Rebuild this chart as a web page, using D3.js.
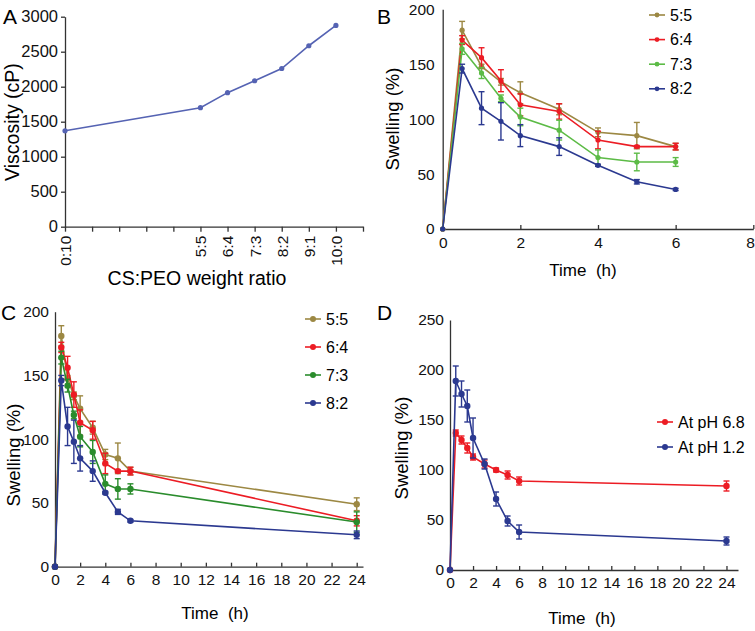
<!DOCTYPE html>
<html>
<head>
<meta charset="utf-8">
<script src="https://cdn.jsdelivr.net/npm/d3@7"></script>
<style>
  body { margin: 0; background: #fff; }
  svg { font-family: "Liberation Sans", Arial, sans-serif; }
  .axis path, .axis line { stroke: #333; stroke-width: 1.3; }
  .axis text { fill: #111; }
</style>
</head>
<body>
<svg id="chart" width="755" height="631"></svg>
<script>
// ---- panel A: viscosity vs CS:PEO ratio
const ratioPos = [0, 5, 6, 7, 8, 9, 10];
const ratioLabels = ["0:10", "5:5", "6:4", "7:3", "8:2", "9:1", "10:0"];
const viscosity = [1370, 1700, 1915, 2085, 2260, 2585, 2875];

// ---- swelling, 0-6 h (B) and 0-24 h (C)
const timesShort = [0, 0.5, 1, 1.5, 2, 3, 4, 5, 6];
const timesLong = [0, 0.5, 1, 1.5, 2, 3, 4, 5, 6, 24];
const ratioSeries = ["5:5", "6:4", "7:3", "8:2"];
const sw55 = [0, 181, 148, 134, 124, 109, 88, 85, 75, 49];
const sw55err = [0, 8, 2, 3, 10, 5, 4, 12, 3, 5];
const sw64 = [0, 172, 156, 135, 113, 107, 81, 75, 75, 36];
const sw64err = [0, 4, 9, 10, 10, 7, 8, 1, 3, 4];
const sw73 = [0, 164, 142, 119, 102, 90, 65, 61, 61, 35];
const sw73err = [0, 5, 5, 3, 8, 9, 7, 8, 4, 8];
const sw82 = [0, 146, 110, 98, 85, 75, 58, 43, 36, 25];
const sw82err = [0, 4, 15, 17, 10, 8, 1, 2, 1, 3];

// ---- panel D: pH
const phSeries = ["At pH 6.8", "At pH 1.2"];
const ph68 = [0, 137, 130, 122, 113, 106, 100, 95, 89, 84];
const ph68err = [0, 3, 4, 5, 3, 4, 2, 4, 4, 5];
const ph12 = [0, 189, 176, 164, 132, 106, 71, 49, 38, 29];
const ph12err = [0, 15, 13, 16, 20, 5, 7, 5, 7, 4];

const svg = d3.select("#chart");

function drawAxes(g, x, y, opt) {
  let xa = d3.axisBottom(x).tickValues(opt.xTicks).tickSizeOuter(0)
    .tickSizeInner(opt.xTickIn).tickPadding(opt.xPad)
    .tickFormat(opt.xFormat || d3.format("d"));
  let gx = g.append("g").attr("class", "axis")
    .attr("transform", "translate(0," + y.range()[0] + ")")
    .call(xa);
  gx.selectAll("text").style("font-size", opt.tickFont + "px");

  let ya = d3.axisLeft(y).tickValues(opt.yTicks).tickSizeOuter(0)
    .tickSizeInner(opt.yTickIn).tickPadding(opt.yPad)
    .tickFormat(d3.format("d"));
  let gy = g.append("g").attr("class", "axis")
    .attr("transform", "translate(" + x.range()[0] + ",0)")
    .call(ya);
  gy.selectAll("text").style("font-size", (opt.yFont || opt.tickFont) + "px");
  return gx;
}

function drawSeries(g, x, y, xs, ys, errs, color, r) {
  let pts = xs.map((t, i) => ({ t: t, v: ys[i], e: errs ? errs[i] : 0 }));
  g.append("path")
    .datum(pts)
    .attr("fill", "none")
    .attr("stroke", color)
    .attr("stroke-width", 1.6)
    .attr("d", d3.line().x(d => x(d.t)).y(d => y(d.v)));
  let eb = g.append("g").attr("stroke", color).attr("stroke-width", 1.4);
  pts.filter(d => d.e > 0).forEach(d => {
    eb.append("line").attr("x1", x(d.t)).attr("x2", x(d.t))
      .attr("y1", y(d.v - d.e)).attr("y2", y(d.v + d.e));
    [d.v - d.e, d.v + d.e].forEach(v => {
      eb.append("line").attr("x1", x(d.t) - 3).attr("x2", x(d.t) + 3)
        .attr("y1", y(v)).attr("y2", y(v));
    });
  });
  g.append("g").selectAll("circle")
    .data(pts)
    .enter().append("circle")
    .attr("cx", d => x(d.t))
    .attr("cy", d => y(d.v))
    .attr("r", r)
    .attr("fill", color);
}

function legend(g, names, colors, x0, y0, step, fontSize, r) {
  names.forEach((n, i) => {
    let yy = y0 + i * step;
    g.append("line").attr("x1", x0).attr("x2", x0 + 16)
      .attr("y1", yy).attr("y2", yy)
      .attr("stroke", colors[i]).attr("stroke-width", 1.6);
    g.append("circle").attr("cx", x0 + 8).attr("cy", yy).attr("r", r).attr("fill", colors[i]);
    g.append("text").attr("x", x0 + 21).attr("y", yy).attr("dy", "0.35em")
      .style("font-size", fontSize + "px").text(n);
  });
}

function letter(txt, x, y) {
  svg.append("text").attr("x", x).attr("y", y)
    .style("font-size", "21px").text(txt);
}

function timeLabel(g, x, y) {
  g.append("text").attr("x", x).attr("y", y).style("text-anchor", "middle")
    .style("font-size", "17px").text("Time\u00a0\u00a0(h)");
}

// ================= A
{
  let g = svg.append("g");
  let x = d3.scaleLinear().domain([0, 11]).range([65, 363]);
  let y = d3.scaleLinear().domain([0, 3000]).range([226.7, 16.7]);
  let gx = drawAxes(g, x, y, {
    xTicks: d3.range(0, 12), xTickIn: 5, xPad: 4,
    xFormat: d => { let k = ratioPos.indexOf(d); return k < 0 ? "" : ratioLabels[k]; },
    yTicks: d3.range(0, 3001, 500), yTickIn: 4, yPad: 3, tickFont: 15.5, yFont: 16.5
  });
  gx.selectAll("text")
    .attr("transform", "rotate(-90)")
    .attr("x", -9).attr("y", 0).attr("dy", "0.35em")
    .style("text-anchor", "end");
  let col = "#5563b3";
  drawSeries(g, x, y, ratioPos, viscosity, null, col, 2.6);
  g.append("text").attr("x", 197).attr("y", 285).style("text-anchor", "middle")
    .style("font-size", "19.5px").text("CS:PEO weight ratio");
  g.append("text").attr("transform", "translate(19,122) rotate(-90)")
    .style("text-anchor", "middle").style("font-size", "19.5px").text("Viscosity (cP)");
  letter("A", 3, 24);
}

const colB = ["#9c8843", "#ec1c24", "#5cbb46", "#2b3990"];
const colC = ["#9c8843", "#ec1c24", "#2a8c2c", "#2b3990"];
const swVals = [sw55, sw64, sw73, sw82];
const swErrs = [sw55err, sw64err, sw73err, sw82err];

// ================= B
{
  let g = svg.append("g");
  let x = d3.scaleLinear().domain([0, 8]).range([442.7, 753.3]);
  let y = d3.scaleLinear().domain([0, 200]).range([229, 9.3]);
  let gx = drawAxes(g, x, y, {
    xTicks: [0, 2, 4, 6, 8], xTickIn: -4, xPad: 8,
    yTicks: [0, 50, 100, 150, 200], yTickIn: 0, yPad: 8, tickFont: 15.5
  });
  // last label sits on the page edge, pull it inside
  gx.selectAll(".tick text").filter(d => d === 8).style("text-anchor", "end").attr("x", 1);
  swVals.forEach((vals, i) => {
    let n = timesShort.length;
    drawSeries(g, x, y, timesShort, vals.slice(0, n), swErrs[i].slice(0, n), colB[i], 2.6);
  });
  legend(g, ratioSeries, colB, 649, 15, 24.6, 16, 2.4);
  timeLabel(g, 583, 276);
  g.append("text").attr("transform", "translate(399,119) rotate(-90)")
    .style("text-anchor", "middle").style("font-size", "18.5px").text("Swelling (%)");
  letter("B", 377, 24);
}

// ================= C
{
  let g = svg.append("g");
  let x = d3.scaleLinear().domain([0, 24.5]).range([55, 363]);
  let y = d3.scaleLinear().domain([0, 200]).range([566.7, 311.7]);
  drawAxes(g, x, y, {
    xTicks: d3.range(0, 25, 2), xTickIn: -4, xPad: 7,
    yTicks: [0, 50, 100, 150, 200], yTickIn: 0, yPad: 6, tickFont: 15.5
  });
  swVals.forEach((vals, i) => {
    drawSeries(g, x, y, timesLong, vals, swErrs[i], colC[i], 3.2);
  });
  legend(g, ratioSeries, colC, 305, 319, 28, 16, 3);
  timeLabel(g, 215, 619);
  g.append("text").attr("transform", "translate(20,455) rotate(-90)")
    .style("text-anchor", "middle").style("font-size", "18.5px").text("Swelling (%)");
  letter("C", 1, 320);
}

// ================= D
{
  let g = svg.append("g");
  let x = d3.scaleLinear().domain([0, 25]).range([450, 738]);
  let y = d3.scaleLinear().domain([0, 250]).range([570, 320]);
  drawAxes(g, x, y, {
    xTicks: d3.range(0, 25, 2), xTickIn: -4, xPad: 7,
    yTicks: [0, 50, 100, 150, 200, 250], yTickIn: 0, yPad: 6, tickFont: 15.5
  });
  let colD = ["#ec1c24", "#2b3990"];
  drawSeries(g, x, y, timesLong, ph68, ph68err, colD[0], 3.2);
  drawSeries(g, x, y, timesLong, ph12, ph12err, colD[1], 3.2);
  legend(g, phSeries, colD, 657, 422, 25, 16, 3);
  timeLabel(g, 582, 624);
  g.append("text").attr("transform", "translate(408,448) rotate(-90)")
    .style("text-anchor", "middle").style("font-size", "18.5px").text("Swelling (%)");
  letter("D", 377, 320);
}
</script>
</body>
</html>
